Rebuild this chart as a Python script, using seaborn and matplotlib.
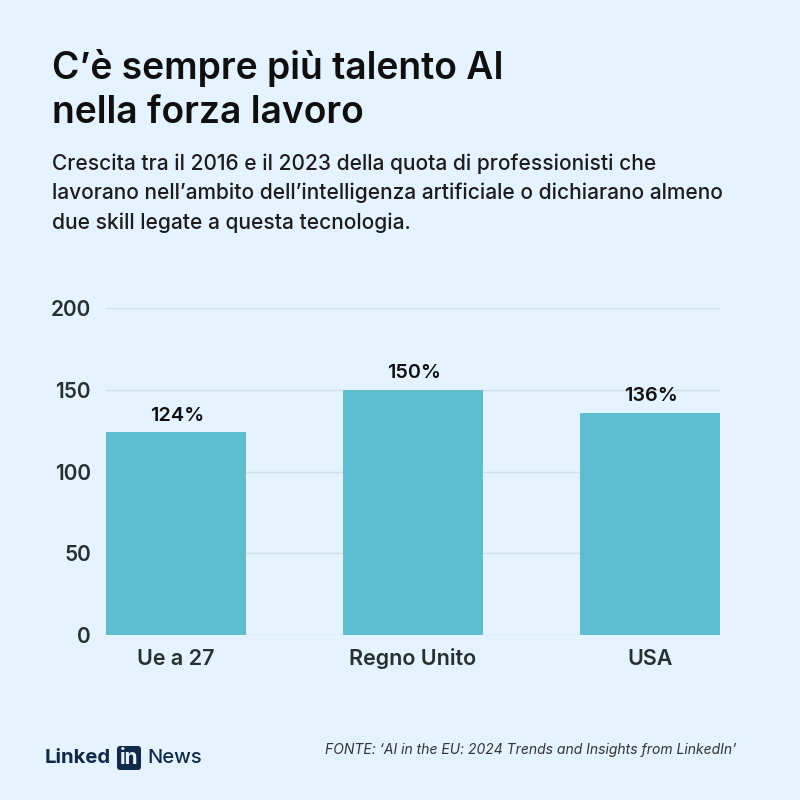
import matplotlib
matplotlib.use("Agg")
import matplotlib.pyplot as plt
from matplotlib.patches import FancyBboxPatch
import pandas as pd
import seaborn as sns

categories = ["Ue a 27", "Regno Unito", "USA"]
values = [124, 150, 136]
value_labels = ["124%", "150%", "136%"]
y_ticks = [0, 50, 100, 150, 200]

title = "C’è sempre più talento AI\nnella forza lavoro"
subtitle = ("Crescita tra il 2016 e il 2023 della quota di professionisti che\n"
            "lavorano nell’ambito dell’intelligenza artificiale o dichiarano almeno\n"
            "due skill legate a questa tecnologia.")
source = "FONTE: ‘AI in the EU: 2024 Trends and Insights from LinkedIn’"

BG = "#e5f2ff"
BAR = "#5fbdd0"
INK = "#0f0f0f"
TICK = "#26302f"
GRID = "#d3e0ea"
LOGO = "#12294a"

sns.set_style("white")
plt.rcParams["font.family"] = ["Inter", "DejaVu Sans"]

df = pd.DataFrame({"cat": categories, "val": values})

fig = plt.figure(figsize=(8, 8), dpi=100, facecolor=BG)
# plot box: x 106-720, y 308-635 px
ax = fig.add_axes([106 / 800, 1 - 635 / 800, 614 / 800, 327 / 800], facecolor=BG)
sns.barplot(data=df, x="cat", y="val", color=BAR, saturation=1, width=0.59, linewidth=0, ax=ax)

# bars touch both ends of the plot box
ax.set_xlim(-0.295, 2.295)
ax.set_ylim(0, 200)
ax.set_yticks(y_ticks)
ax.set_xlabel("")
ax.set_ylabel("")
ax.grid(axis="y", color=GRID, lw=1)
ax.set_axisbelow(True)
sns.despine(ax=ax, left=True, bottom=True)
ax.tick_params(axis="x", length=0, pad=21.5, labelsize=15.5, labelcolor=TICK)
ax.tick_params(axis="y", length=0, pad=10.8, labelsize=15, labelcolor=TICK)
for lab in ax.get_xticklabels() + ax.get_yticklabels():
    lab.set_fontweight("semibold")
for lab in ax.get_xticklabels():
    lab.set_verticalalignment("baseline")

for i, v in enumerate(values):
    ax.annotate(value_labels[i], (i, v), xytext=(1, 5.5), textcoords="offset points",
                ha="center", va="bottom", fontsize=14.3, fontweight="semibold", color=INK)

fig.text(52 / 800, 1 - 49 / 800, title, fontsize=26.8, fontweight="semibold", color=INK,
         va="top", linespacing=1.28)
fig.text(52 / 800, 1 - 153 / 800, subtitle, fontsize=15.07, fontweight="medium", color="#1c1c1c",
         va="top", linespacing=1.55)
fig.text(736 / 800, 1 - 750 / 800, source, fontsize=10.05, style="italic", color="#333333",
         ha="right", va="center")

# LinkedIn News logo
fig.text(45 / 800, 1 - 758 / 800, "Linked", fontsize=14.6, fontweight="bold", color=LOGO,
         va="center")
badge = FancyBboxPatch((117 / 800, 1 - 770 / 800), 24 / 800, 24 / 800,
                       boxstyle="round,pad=0,rounding_size=0.004",
                       transform=fig.transFigure, fc=LOGO, ec="none")
fig.add_artist(badge)
fig.text(129 / 800, 1 - 758 / 800, "in", fontsize=15, fontweight="bold", color=BG,
         ha="center", va="center")
fig.text(147 / 800, 1 - 758 / 800, "News", fontsize=14.5, fontweight="medium", color=LOGO,
         va="center")

fig.savefig("out.png", dpi=100, facecolor=BG)
